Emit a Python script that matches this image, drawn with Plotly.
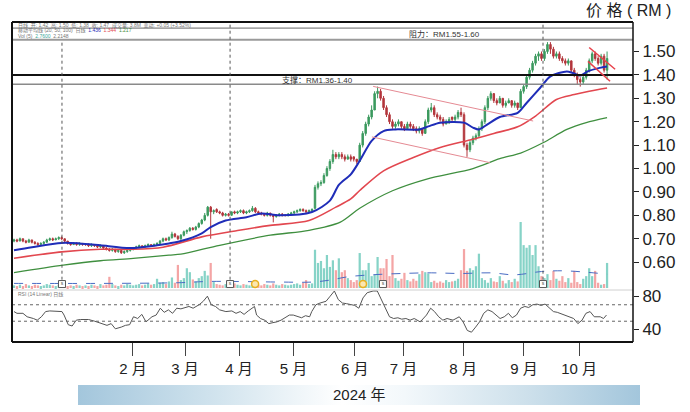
import base64
import plotly.graph_objects as go

# ---------------- data (bar index = trading day) ----------------
opens = [
    .690, .695, .690, .700, .690, .685, .695, .685, .680, .675,
    .680, .685, .695, .700, .695, .700, .705, .700, .690, .680,
    .675, .680, .675, .680, .675, .675, .670, .675, .670, .665,
    .670, .660, .655, .650, .655, .645, .650, .640, .645, .650,
    .655, .660, .665, .670, .665, .670, .675, .670, .675, .680,
    .690, .700, .695, .705, .720, .710, .700, .715, .730, .735,
    .745, .740, .750, .765, .780, .800, .835, .815, .825, .815,
    .810, .800, .805, .800, .815, .810, .815, .820, .810, .815,
    .820, .830, .815, .810, .805, .800, .810, .800, .795, .800,
    .805, .800, .800, .805, .810, .815, .820, .825, .820, .815,
    .820, .830, .920, .935, .940, .970, 1.00, 1.03, 1.06, 1.05,
    1.06, 1.05, 1.04, 1.05, 1.05, 1.04, 1.03, 1.10, 1.15, 1.19,
    1.22, 1.25, 1.32, 1.33, 1.30, 1.26, 1.23, 1.20, 1.18, 1.19,
    1.20, 1.18, 1.17, 1.19, 1.18, 1.17, 1.16, 1.17, 1.15, 1.20,
    1.25, 1.26, 1.23, 1.22, 1.21, 1.19, 1.20, 1.22, 1.21, 1.22,
    1.24, 1.23, 1.10, 1.08, 1.11, 1.13, 1.14, 1.17, 1.20, 1.26,
    1.30, 1.32, 1.29, 1.28, 1.30, 1.27, 1.28, 1.29, 1.27, 1.28,
    1.26, 1.33, 1.35, 1.39, 1.42, 1.45, 1.48, 1.49, 1.47, 1.50,
    1.53, 1.51, 1.48, 1.49, 1.47, 1.46, 1.45, 1.46, 1.42, 1.40,
    1.38, 1.37, 1.39, 1.42, 1.46, 1.49, 1.47, 1.45, 1.48, 1.42,
]
highs = [
    .700, .700, .705, .700, .695, .700, .695, .690, .685, .685,
    .690, .700, .705, .705, .705, .710, .710, .700, .690, .685,
    .685, .685, .685, .680, .680, .680, .680, .675, .670, .675,
    .670, .665, .660, .660, .655, .655, .650, .650, .655, .660,
    .665, .670, .675, .670, .675, .680, .675, .680, .685, .695,
    .705, .705, .710, .730, .725, .715, .720, .735, .740, .750,
    .750, .755, .770, .785, .810, .840, .840, .825, .830, .820,
    .815, .810, .810, .815, .820, .820, .825, .825, .820, .825,
    .840, .835, .820, .815, .810, .815, .810, .805, .805, .810,
    .810, .805, .810, .815, .820, .825, .830, .830, .825, .825,
    .830, .930, .945, .950, .980, 1.01, 1.04, 1.08, 1.07, 1.07,
    1.07, 1.06, 1.06, 1.06, 1.05, 1.04, 1.11, 1.16, 1.20, 1.23,
    1.27, 1.33, 1.35, 1.34, 1.31, 1.27, 1.24, 1.21, 1.20, 1.21,
    1.20, 1.19, 1.20, 1.20, 1.19, 1.18, 1.18, 1.17, 1.21, 1.26,
    1.28, 1.27, 1.24, 1.23, 1.22, 1.21, 1.22, 1.22, 1.23, 1.25,
    1.26, 1.24, 1.11, 1.12, 1.14, 1.15, 1.18, 1.21, 1.27, 1.31,
    1.33, 1.32, 1.30, 1.31, 1.30, 1.29, 1.30, 1.29, 1.29, 1.28,
    1.34, 1.36, 1.40, 1.43, 1.46, 1.49, 1.50, 1.50, 1.51, 1.54,
    1.54, 1.52, 1.50, 1.50, 1.48, 1.47, 1.47, 1.46, 1.43, 1.41,
    1.39, 1.40, 1.43, 1.47, 1.50, 1.50, 1.48, 1.49, 1.49, 1.50,
]
lows = [
    .685, .685, .690, .685, .680, .685, .680, .675, .670, .675,
    .675, .685, .690, .690, .695, .695, .695, .685, .675, .670,
    .675, .670, .670, .670, .670, .665, .665, .665, .660, .660,
    .655, .650, .645, .645, .640, .640, .635, .635, .640, .645,
    .650, .655, .660, .660, .665, .665, .665, .670, .670, .680,
    .685, .690, .690, .700, .705, .695, .695, .710, .720, .730,
    .735, .735, .745, .760, .775, .795, .700, .805, .810, .805,
    .795, .795, .795, .800, .805, .805, .810, .805, .805, .810,
    .815, .810, .805, .800, .795, .795, .795, .770, .790, .795,
    .795, .795, .795, .800, .805, .810, .815, .815, .810, .815,
    .815, .825, .910, .925, .935, .965, .990, 1.02, 1.04, 1.04,
    1.04, 1.03, 1.04, 1.03, 1.03, 1.02, 1.03, 1.09, 1.14, 1.18,
    1.21, 1.25, 1.30, 1.29, 1.25, 1.22, 1.19, 1.17, 1.17, 1.18,
    1.17, 1.16, 1.17, 1.17, 1.16, 1.15, 1.15, 1.14, 1.15, 1.19,
    1.24, 1.22, 1.21, 1.20, 1.18, 1.19, 1.19, 1.20, 1.20, 1.21,
    1.22, 1.09, 1.05, 1.07, 1.10, 1.12, 1.13, 1.16, 1.19, 1.25,
    1.29, 1.28, 1.27, 1.28, 1.26, 1.26, 1.28, 1.26, 1.26, 1.25,
    1.26, 1.32, 1.34, 1.38, 1.41, 1.44, 1.46, 1.46, 1.46, 1.49,
    1.49, 1.47, 1.47, 1.46, 1.45, 1.44, 1.44, 1.41, 1.39, 1.36,
    1.35, 1.36, 1.38, 1.41, 1.45, 1.46, 1.44, 1.44, 1.41, 1.38,
]
closes = [
    .695, .690, .700, .690, .685, .695, .685, .680, .675, .680,
    .685, .695, .700, .695, .700, .705, .700, .690, .680, .675,
    .680, .675, .680, .675, .675, .670, .675, .670, .665, .670,
    .660, .655, .650, .655, .645, .650, .640, .645, .650, .655,
    .660, .665, .670, .665, .670, .675, .670, .675, .680, .690,
    .700, .695, .705, .720, .710, .700, .715, .730, .735, .745,
    .740, .750, .765, .780, .800, .835, .815, .820, .815, .810,
    .800, .805, .800, .815, .810, .815, .820, .810, .815, .820,
    .830, .815, .810, .805, .800, .810, .800, .795, .800, .805,
    .800, .800, .805, .810, .815, .820, .825, .820, .815, .820,
    .825, .920, .935, .940, .970, 1.00, 1.03, 1.06, 1.05, 1.06,
    1.05, 1.04, 1.05, 1.04, 1.04, 1.03, 1.10, 1.15, 1.19, 1.22,
    1.25, 1.32, 1.33, 1.30, 1.26, 1.23, 1.20, 1.18, 1.19, 1.20,
    1.18, 1.17, 1.19, 1.18, 1.17, 1.16, 1.17, 1.15, 1.20, 1.25,
    1.26, 1.23, 1.22, 1.21, 1.19, 1.20, 1.21, 1.21, 1.22, 1.24,
    1.23, 1.10, 1.08, 1.11, 1.13, 1.14, 1.17, 1.20, 1.26, 1.30,
    1.32, 1.29, 1.28, 1.30, 1.27, 1.28, 1.29, 1.27, 1.28, 1.26,
    1.33, 1.35, 1.39, 1.42, 1.45, 1.48, 1.49, 1.47, 1.50, 1.53,
    1.51, 1.48, 1.49, 1.47, 1.46, 1.45, 1.46, 1.42, 1.40, 1.38,
    1.37, 1.39, 1.42, 1.46, 1.49, 1.47, 1.45, 1.48, 1.42, 1.47,
]
volumes = [  # millions of shares
    0.4, 0.3, 0.5, 0.3, 0.6, 0.4, 0.3, 0.5, 0.4, 0.3,
    0.4, 0.6, 0.5, 0.4, 0.3, 0.5, 0.7, 0.4, 0.3, 0.4,
    0.3, 0.5, 0.4, 0.3, 0.4, 0.3, 0.5, 0.4, 0.3, 0.6,
    0.4, 0.5, 1.7, 0.6, 0.4, 0.3, 0.5, 0.4, 0.6, 0.5,
    0.4, 0.5, 0.6, 0.4, 0.5, 0.7, 0.5, 0.6, 1.4, 0.8,
    0.9, 0.6, 1.0, 1.6, 0.8, 3.5, 1.2, 1.5, 3.0, 2.4,
    1.3, 1.0, 1.5, 1.8, 2.6, 1.9, 3.8, 0.9, 0.6, 0.5,
    0.4, 0.6, 0.5, 0.4, 0.7, 0.5, 0.4, 0.6, 0.5, 0.4,
    0.6, 0.9, 0.5, 0.4, 0.6, 0.5, 0.4, 0.7, 0.5, 0.4,
    0.6, 0.5, 0.4, 0.5, 0.6, 0.7, 0.5, 0.8, 1.2, 0.6,
    0.7, 5.8, 3.8, 4.1, 3.0, 5.0, 3.2, 4.2, 2.7, 4.5,
    2.4, 2.7, 1.5, 1.2, 0.9, 1.2, 5.3, 2.7, 2.7, 3.8,
    1.8, 2.0, 4.7, 3.0, 3.0, 4.4, 1.8, 5.0, 1.5, 1.1,
    1.4, 2.3, 1.2, 1.0, 1.4, 1.1, 2.1, 2.6, 2.4, 2.2,
    0.9, 1.1, 0.8, 1.0, 0.8, 1.2, 0.9, 1.0, 1.1, 1.4,
    2.7, 5.9, 2.6, 3.0, 2.7, 3.3, 5.2, 1.5, 1.2, 0.8,
    1.5, 1.0, 0.9, 1.8, 1.1, 0.7, 1.2, 0.9, 1.4, 1.0,
    10.0, 6.5, 6.1, 6.5, 5.0, 6.5, 3.3, 1.8, 1.5, 2.1,
    1.2, 2.6, 1.4, 1.1, 1.8, 0.9, 1.5, 0.8, 2.6, 0.9,
    0.6, 1.4, 1.8, 3.0, 1.8, 2.6, 0.8, 0.5, 0.6, 3.8,
]

# moving averages (at sample bars)
ma20_idx = [0, 6, 16, 22, 29, 39, 48, 52, 56, 63, 66, 71, 78, 83, 89, 100, 106, 109,
            113, 116, 120, 124, 128, 136, 139, 143, 151, 154, 156, 159, 163, 169, 172,
            176.5, 180, 185.5, 187.5, 190, 192.5, 196.5, 199]
ma20_val = [0.651, 0.664, 0.682, 0.680, 0.672, 0.660, 0.672, 0.680, 0.690, 0.723, 0.750,
            0.778, 0.792, 0.808, 0.800, 0.814, 0.863, 0.930, 0.975, 1.033, 1.118, 1.160,
            1.167, 1.167, 1.180, 1.196, 1.196, 1.175, 1.167, 1.190, 1.220, 1.238, 1.280,
            1.344, 1.394, 1.415, 1.408, 1.397, 1.415, 1.430, 1.436]
ma50_idx = [0, 16, 29, 39, 50, 63, 75, 86, 99, 108, 113, 116, 124, 134, 143, 154, 161,
            169, 175, 182, 188, 193, 199]
ma50_val = [0.617, 0.644, 0.655, 0.655, 0.664, 0.708, 0.735, 0.757, 0.778, 0.835, 0.870,
            0.906, 0.990, 1.047, 1.090, 1.125, 1.150, 1.178, 1.224, 1.295, 1.316, 1.330, 1.344]
ma100_idx = [0, 16.5, 29, 40, 52, 56, 69, 86, 99, 109.5, 116, 127, 138.5, 154, 163, 170,
             177.5, 185.5, 192, 199]
ma100_val = [0.555, 0.587, 0.606, 0.616, 0.630, 0.634, 0.672, 0.715, 0.736, 0.771, 0.830,
             0.905, 0.955, 1.000, 1.042, 1.066, 1.110, 1.167, 1.196, 1.217]
volma_idx = [0, 30, 55, 66, 90, 100, 106, 112, 120, 130, 140, 150, 160, 168, 177, 185, 199]
volma_val = [0.7, 0.7, 0.8, 1.0, 0.9, 0.9, 1.2, 1.7, 2.0, 2.2, 2.3, 2.2, 2.3, 2.0, 2.5, 2.6, 2.1]

# RSI(14)
rsi_idx = [0, 1.0, 3.0, 4.4, 6.5, 7.8, 9.2, 10.6, 12.0, 14.0,
           16.1, 16.8, 18.2, 19.5, 20.9, 22.3, 25.0, 27.1, 29.1, 31.2,
           32.6, 34.0, 36.0, 37.4, 38.8, 40.1, 41.5, 42.9, 44.3, 46.3,
           47.7, 49.1, 50.4, 51.8, 53.2, 54.6, 56.0, 57.3, 58.7, 60.1,
           62.1, 63.5, 64.9, 66.2, 67.6, 69.0, 71.1, 73.1, 74.5, 75.9,
           77.2, 78.6, 80.0, 80.7, 81.4, 82.7, 84.1, 85.5, 86.9, 88.2,
           89.6, 91.0, 92.4, 93.7, 95.1, 96.5, 97.8, 99.2, 99.9, 101.3,
           102.7, 104.7, 106.1, 107.5, 108.8, 110.2, 111.6, 113.0, 114.3, 115.7,
           117.1, 118.5, 120.5, 121.9, 123.3, 124.6, 126.0, 127.4, 128.8, 130.1,
           131.5, 132.9, 134.3, 136.3, 138.4, 139.8, 141.1, 142.5, 143.9, 145.3,
           147.3, 149.4, 150.7, 152.1, 153.5, 154.9, 156.2, 157.6, 159.0, 160.4,
           161.7, 163.1, 164.5, 165.9, 167.2, 168.6, 170.0, 171.4, 172.7, 174.1,
           175.5, 176.8, 178.2, 179.6, 181.0, 182.3, 184.4, 186.4, 187.8, 189.2,
           190.6, 191.9, 193.3, 194.7, 196.7, 197.8, 198.8]
rsi_val = [61.7, 59.6, 59.6, 55.4, 53.3, 51.3, 55.4, 61.7, 62.5, 61.7,
           61.7, 57.5, 45.8, 44.2, 51.3, 52.1, 52.1, 50.0, 47.1, 45.0,
           47.1, 40.8, 42.9, 45.0, 45.8, 55.4, 53.3, 58.3, 49.2, 55.4,
           57.5, 65.8, 60.8, 63.8, 59.6, 65.8, 65.0, 66.7, 67.9, 65.8,
           70.0, 74.2, 80.4, 70.0, 67.9, 63.8, 61.7, 62.5, 59.6, 61.7,
           58.3, 62.5, 65.8, 67.9, 57.5, 53.3, 51.3, 47.1, 48.3, 49.2,
           51.3, 54.2, 57.5, 57.5, 55.4, 54.2, 56.7, 55.4, 61.7, 70.0,
           72.1, 74.2, 80.4, 86.7, 76.3, 72.1, 71.3, 70.0, 69.2, 65.8,
           78.3, 84.6, 86.7, 86.7, 76.3, 65.8, 55.4, 53.3, 54.2, 52.5,
           53.3, 51.3, 53.3, 49.2, 57.5, 65.8, 61.7, 55.4, 51.3, 53.3,
           51.3, 55.4, 49.2, 38.8, 36.7, 42.9, 49.2, 59.6, 63.8, 61.7,
           57.5, 53.3, 55.4, 59.6, 54.2, 57.5, 65.8, 67.9, 66.7, 70.0,
           70.8, 69.2, 70.8, 66.7, 61.7, 60.8, 58.3, 55.4, 53.3, 47.1,
           51.3, 59.6, 61.7, 55.4, 55.4, 53.3, 57.5]

# month ticks (bar index of first trading day) and labels
month_pos = [39.9, 57.4, 75.5, 93.8, 114.3, 130.7, 150.7, 171.1, 189.6]
month_labels = ["2 月", "3 月", "4 月", "5 月", "6 月", "7 月", "8 月", "9 月", "10 月"]
price_ticks = [0.60, 0.70, 0.80, 0.90, 1.00, 1.10, 1.20, 1.30, 1.40, 1.50]
rsi_ticks = [40, 80]

# support / resistance zones and trendlines (price units)
resistance = (1.55, 1.60)
support = (1.36, 1.40)
channel_upper = [(120.5, 1.351), (174.2, 1.203)]
channel_lower = [(120.1, 1.135), (159.7, 1.025)]
flag_upper = [(193.0, 1.517), (201.7, 1.424)]
flag_lower = [(192.6, 1.458), (200.0, 1.373)]
event_lines = [16.1, 72.5, 177.5]
event_boxes = [16.1, 72.5, 123.8, 177.5]
event_coins = [80.9, 117.1]

# ---------------- styling ----------------
UP = "#3c9a5f"
DN = "#b3363c"
VUP = "#86d3c7"
VDN = "#f4a5a5"
FONT = "Liberation Sans, Arial, Noto Sans CJK SC, sans-serif"

n = len(closes)
idx = list(range(n))
vcolors = [VUP if c >= o else VDN for o, c in zip(opens, closes)]

fig = go.Figure()

fig.add_trace(go.Bar(x=idx, y=volumes, marker=dict(color=vcolors, line=dict(width=0)),
                     xaxis="x", yaxis="y3", showlegend=False, hoverinfo="skip"))
fig.add_trace(go.Scatter(x=volma_idx, y=volma_val, mode="lines", xaxis="x", yaxis="y3",
                         line=dict(color="#4a6cc4", width=1, dash="dash", shape="spline"),
                         showlegend=False, hoverinfo="skip"))
fig.add_trace(go.Scatter(x=event_boxes, y=[0.6] * len(event_boxes), mode="markers+text",
                         text=["s"] * len(event_boxes), textfont=dict(size=5, color="#444"),
                         textposition="middle center", xaxis="x", yaxis="y3",
                         marker=dict(symbol="square", size=7, color="white",
                                     line=dict(color="#555", width=1)),
                         showlegend=False, hoverinfo="skip"))
fig.add_trace(go.Scatter(x=event_coins, y=[0.6] * len(event_coins), mode="markers",
                         xaxis="x", yaxis="y3",
                         marker=dict(symbol="circle", size=7, color="#fbe7b0",
                                     line=dict(color="#e8b020", width=1.5)),
                         showlegend=False, hoverinfo="skip"))

fig.add_trace(go.Candlestick(x=idx, open=opens, high=highs, low=lows, close=closes,
                             increasing=dict(line=dict(color=UP, width=1), fillcolor=UP),
                             decreasing=dict(line=dict(color=DN, width=1), fillcolor=DN),
                             whiskerwidth=0, xaxis="x", yaxis="y", showlegend=False,
                             hoverinfo="skip"))

for xs, ys, col, w in [(ma100_idx, ma100_val, "#3f8f3f", 1.3),
                       (ma50_idx, ma50_val, "#e2474f", 1.6),
                       (ma20_idx, ma20_val, "#1f2db8", 2.0)]:
    fig.add_trace(go.Scatter(x=xs, y=ys, mode="lines", xaxis="x", yaxis="y",
                             line=dict(color=col, width=w, shape="spline", smoothing=0.8),
                             showlegend=False, hoverinfo="skip"))

fig.add_trace(go.Scatter(x=rsi_idx, y=rsi_val, mode="lines", xaxis="x2", yaxis="y2",
                         line=dict(color="#555555", width=1), showlegend=False,
                         hoverinfo="skip"))

# ---------------- layout ----------------
P_DOM = 0.1625
fig.update_layout(
    width=690, height=412,
    margin=dict(l=12, r=57, t=22, b=70),
    paper_bgcolor="white", plot_bgcolor="white",
    showlegend=False, hovermode=False, bargap=0.25, boxgap=0.3,
    font=dict(family=FONT, color="#222"),
    xaxis=dict(domain=[0, 1], range=[-0.67, 207.7], anchor="y", showticklabels=False,
               showgrid=False, zeroline=False, ticks="", rangeslider=dict(visible=False)),
    xaxis2=dict(domain=[0, 1], matches="x", anchor="y2", showgrid=False, zeroline=False,
                tickmode="array", tickvals=month_pos, ticktext=month_labels,
                ticks="outside", ticklen=13, tickwidth=1.2, tickcolor="#444",
                tickfont=dict(size=15, color="#222", family=FONT)),
    yaxis=dict(domain=[P_DOM, 1], range=[0.481, 1.626], anchor="x", side="right",
               showgrid=False, zeroline=False, tickmode="array", tickvals=price_ticks,
               ticktext=["%.2f" % v for v in price_ticks], ticks="outside", ticklen=5,
               tickwidth=1.2, tickcolor="#222", tickfont=dict(size=17, color="#222")),
    yaxis2=dict(domain=[0, P_DOM], range=[24.8, 87.9], anchor="x2", side="right",
                showgrid=False, zeroline=False, tickmode="array", tickvals=rsi_ticks,
                ticktext=[str(v) for v in rsi_ticks], ticks="outside", ticklen=5,
                tickwidth=1.2, tickcolor="#222", tickfont=dict(size=17, color="#222")),
    yaxis3=dict(overlaying="y", range=[-0.3, 40.3], visible=False, anchor="x"),
)

shapes = []
# support / resistance lines
shapes.append(dict(type="line", xref="paper", yref="y", x0=0, x1=1, y0=resistance[1],
                   y1=resistance[1], line=dict(color="#666", width=1)))
shapes.append(dict(type="line", xref="paper", yref="y", x0=0, x1=1, y0=resistance[0],
                   y1=resistance[0], line=dict(color="#9a9a9a", width=2)))
shapes.append(dict(type="line", xref="paper", yref="y", x0=0, x1=1, y0=support[1],
                   y1=support[1], line=dict(color="#111", width=2)))
shapes.append(dict(type="line", xref="paper", yref="y", x0=0, x1=1, y0=support[0],
                   y1=support[0], line=dict(color="#8a8a8a", width=1.5)))
# trendlines
for seg, col, w in [(channel_upper, "#e58a93", 1), (channel_lower, "#e58a93", 1),
                    (flag_upper, "#e8404a", 1.5), (flag_lower, "#e8404a", 1.5)]:
    shapes.append(dict(type="line", xref="x", yref="y", x0=seg[0][0], y0=seg[0][1],
                       x1=seg[1][0], y1=seg[1][1], line=dict(color=col, width=w)))
# event dotted lines
for i, ex in enumerate(event_lines):
    top = resistance[0] if i == 0 else 1.626
    shapes.append(dict(type="line", xref="x", yref="y", x0=ex, x1=ex, y0=0.525, y1=top,
                       line=dict(color="#555", width=1, dash="dot")))
# RSI reference lines
for lv in (70, 50):
    shapes.append(dict(type="line", xref="paper", yref="y2", x0=0, x1=1, y0=lv, y1=lv,
                       line=dict(color="#666", width=1, dash="dot")))
# panel separator and frame
shapes.append(dict(type="line", xref="paper", yref="paper", x0=0, x1=1, y0=P_DOM, y1=P_DOM,
                   line=dict(color="#d0d0d0", width=1)))
shapes.append(dict(type="line", xref="paper", yref="paper", x0=0, x1=1, y0=1, y1=1,
                   line=dict(color="#111", width=2)))
shapes.append(dict(type="line", xref="paper", yref="paper", x0=0, x1=1, y0=0, y1=0,
                   line=dict(color="#111", width=2)))
shapes.append(dict(type="line", xref="paper", yref="paper", x0=0, x1=0, y0=0, y1=1,
                   line=dict(color="#111", width=2)))
shapes.append(dict(type="line", xref="paper", yref="paper", x0=1, x1=1, y0=0, y1=1,
                   line=dict(color="#111", width=1.5)))
fig.update_layout(shapes=shapes)

ann = []
ann.append(dict(text="阻力：RM%.2f-%.2f" % resistance, xref="x", yref="y", x=144.6,
                y=sum(resistance) / 2, xanchor="center", yanchor="middle", showarrow=False,
                font=dict(size=8, color="#333")))
ann.append(dict(text="支撑：RM%.2f-%.2f" % support, xref="x", yref="y", x=102,
                y=sum(support) / 2, xanchor="center", yanchor="middle", showarrow=False,
                font=dict(size=8, color="#333")))
ann.append(dict(text="价 格 ( RM )", xref="paper", yref="paper", x=0.992, y=1.036,
                xanchor="center", yanchor="middle", showarrow=False,
                font=dict(size=16, color="#222")))
ann.append(dict(text="2024 年", xref="paper", yref="paper", x=0.5588, y=-0.1656,
                xanchor="center", yanchor="middle", showarrow=False,
                font=dict(size=15, color="#222")))
# tiny header legend rows
hdr = [
    ("日线  开: 1.42  高: 1.50  低: 1.38  收: 1.47  成交量: 3.8M  变动: +0.05 (+3.52%)", 0.990),
    ("移动平均线 (20, 50, 100)  日线  <span style='color:#1f2db8'>1.436</span>  "
     "<span style='color:#e2474f'>1.344</span>  <span style='color:#3f8f3f'>1.217</span>", 0.972),
    ("Vol (5)  <span style='color:#3aa89a'>2.7600</span>  2.2148", 0.957),
]
for txt, yy in hdr:
    ann.append(dict(text=txt, xref="paper", yref="paper", x=0.006, y=yy, xanchor="left",
                    yanchor="middle", showarrow=False, font=dict(size=5, color="#777")))
ann.append(dict(text="RSI (14 Linear) 日线", xref="paper", yref="paper", x=0.006, y=0.150,
                xanchor="left", yanchor="middle", showarrow=False,
                font=dict(size=5, color="#777")))
fig.update_layout(annotations=ann)

# year band with soft blue gradient
svg = ('<svg xmlns="http://www.w3.org/2000/svg" width="562" height="20" viewBox="0 0 562 20" '
       'preserveAspectRatio="none"><defs><linearGradient id="g" x1="0" x2="1" y1="0" y2="0">'
       '<stop offset="0" stop-color="#a3c6dc"/><stop offset="0.25" stop-color="#d2e4ee"/>'
       '<stop offset="0.47" stop-color="#ffffff"/><stop offset="0.58" stop-color="#f3f8fb"/>'
       '<stop offset="0.8" stop-color="#cde0eb"/><stop offset="1" stop-color="#a3c6dc"/>'
       '</linearGradient></defs><rect width="562" height="20" fill="url(#g)"/></svg>')
src = "data:image/svg+xml;base64," + base64.b64encode(svg.encode()).decode()
fig.add_layout_image(dict(source=src, xref="paper", yref="paper", x=0.1063, y=-0.1344,
                          sizex=0.905, sizey=0.0625, xanchor="left", yanchor="top",
                          sizing="stretch", layer="below"))

fig.write_html("out.html")
